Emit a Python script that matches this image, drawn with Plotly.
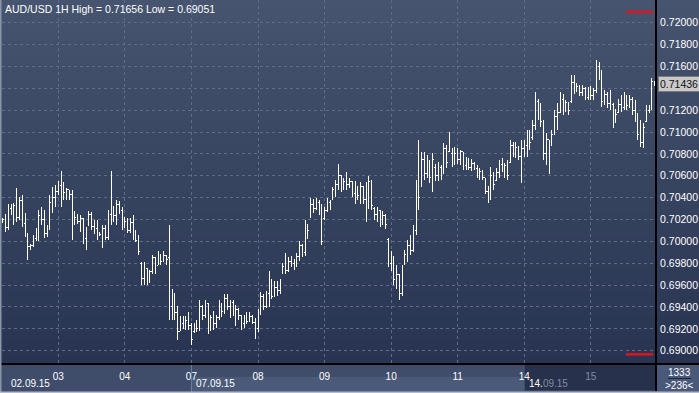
import plotly.graph_objects as go

# ---------------- data ----------------
pair = "AUD/USD"
timeframe = "1H"
total_bars = 1333

day_labels = ["03", "04", "07", "08", "09", "10", "11", "14", "15"]
day_start_idx = [20, 44, 68, 92, 116, 140, 164, 188, 212]
date_labels = ["02.09.15", "07.09.15", "14.09.15"]
date_label_idx = [0, 68, 188]

y_tick_vals = [0.690, 0.692, 0.694, 0.696, 0.698, 0.700, 0.702, 0.704,
               0.706, 0.708, 0.710, 0.712, 0.714, 0.716, 0.718, 0.720]

opens = [
    .7019, .7020, .7013, .7030, .7028, .7033, .7022, .7037, .7016, .7006,
    .6995, .6996, .7003, .7001, .7024, .7020, .7007, .7012, .7036, .7040,
    .7046, .7051, .7050, .7045, .7047, .7043, .7020, .7022, .7018, .7021,
    .7003, .7016, .7025, .7014, .7012, .7008, .7006, .7012, .7004, .7025,
    .7030, .7024, .7034, .7028, .7013, .7018, .7010, .7017, .7004, .7001,
    .6980, .6966, .6975, .6970, .6972, .6985, .6978, .6988, .6982, .6987,
    .6985, .6940, .6950, .6935, .6918, .6925, .6922, .6928, .6923, .6918,
    .6922, .6920, .6940, .6932, .6943, .6920, .6930, .6925, .6930, .6942,
    .6936, .6948, .6940, .6944, .6935, .6938, .6932, .6925, .6929, .6927,
    .6931, .6926, .6920, .6935, .6950, .6940, .6952, .6962, .6950, .6958,
    .6955, .6972, .6977, .6973, .6982, .6980, .6978, .6986, .6996, .6990,
    .7015, .7022, .7034, .7030, .7036, .7028, .7021, .7028, .7036, .7040,
    .7047, .7052, .7060, .7050, .7055, .7052, .7055, .7044, .7050, .7042,
    .7050, .7038, .7048, .7055, .7030, .7025, .7028, .7016, .7024, .7002,
    .6980, .6976, .6965, .6970, .6952, .6980, .6988, .6996, .6992, .7010,
    .7050, .7060, .7075, .7062, .7070, .7058, .7068, .7060, .7068, .7063,
    .7085, .7082, .7080, .7072, .7080, .7075, .7082, .7069, .7073, .7068,
    .7071, .7067, .7061, .7064, .7058, .7046, .7040, .7060, .7056, .7063,
    .7070, .7066, .7069, .7072, .7088, .7081, .7086, .7078, .7085, .7088,
    .7094, .7095, .7106, .7128, .7116, .7110, .7080, .7093, .7092, .7098,
    .7114, .7118, .7130, .7124, .7127, .7128, .7145, .7140, .7142, .7136,
    .7140, .7132, .7137, .7133, .7138, .7160, .7151, .7128, .7134, .7126,
    .7125, .7110, .7118, .7125, .7122, .7132, .7124, .7130, .7120, .7113,
    .7098, .7090, .7110, .7120, .7122, .7146,
]
highs = [
    .7021, .7025, .7034, .7034, .7035, .7049, .7041, .7042, .7026, .7008,
    .6998, .7006, .7012, .7029, .7031, .7029, .7015, .7042, .7050, .7052,
    .7055, .7064, .7054, .7049, .7047, .7047, .7028, .7025, .7024, .7021,
    .7013, .7028, .7027, .7020, .7020, .7009, .7015, .7015, .7029, .7064,
    .7032, .7038, .7037, .7031, .7022, .7021, .7021, .7024, .7010, .7006,
    .6981, .6981, .6976, .6974, .6988, .6986, .6991, .6988, .6991, .6988,
    .7015, .6956, .6953, .6941, .6932, .6932, .6932, .6935, .6925, .6925,
    .6928, .6946, .6942, .6946, .6944, .6933, .6936, .6933, .6946, .6944,
    .6952, .6952, .6946, .6946, .6942, .6939, .6933, .6933, .6935, .6935,
    .6933, .6930, .6938, .6954, .6952, .6955, .6973, .6966, .6964, .6964,
    .6966, .6980, .6989, .6986, .6987, .6984, .6989, .7000, .6998, .7020,
    .7016, .7040, .7039, .7040, .7038, .7034, .7031, .7040, .7038, .7050,
    .7056, .7071, .7061, .7058, .7063, .7058, .7055, .7055, .7050, .7054,
    .7051, .7054, .7060, .7056, .7031, .7031, .7029, .7028, .7025, .7003,
    .6991, .6987, .6978, .6970, .6978, .6992, .7001, .7006, .7015, .7056,
    .7093, .7082, .7082, .7079, .7074, .7081, .7071, .7073, .7070, .7090,
    .7088, .7100, .7085, .7086, .7085, .7084, .7082, .7077, .7076, .7075,
    .7073, .7070, .7067, .7065, .7058, .7051, .7068, .7063, .7067, .7074,
    .7076, .7072, .7074, .7093, .7091, .7091, .7087, .7093, .7093, .7102,
    .7102, .7111, .7137, .7130, .7127, .7111, .7099, .7093, .7102, .7120,
    .7127, .7137, .7135, .7129, .7127, .7152, .7152, .7145, .7143, .7143,
    .7141, .7141, .7142, .7140, .71656, .7164, .7157, .7138, .7137, .7138,
    .7127, .7121, .7130, .7134, .7137, .7134, .7134, .7132, .7129, .7117,
    .7111, .7108, .7125, .7125, .7149, .7147,
]
lows = [
    .7017, .7009, .7010, .7024, .7015, .7018, .7020, .7013, .7004, .6983,
    .6992, .6995, .7000, .7000, .7015, .7003, .7004, .7010, .7026, .7031,
    .7042, .7031, .7038, .7038, .7038, .7001, .7015, .7016, .7009, .6998,
    .6992, .7014, .7010, .7007, .7001, .7005, .6994, .7001, .7001, .7015,
    .7018, .7015, .7025, .7010, .7012, .7008, .7008, .7001, .6999, .6988,
    .6960, .6960, .6960, .6962, .6970, .6970, .6978, .6978, .6981, .6978,
    .6928, .6928, .6928, .6910, .6918, .6920, .6919, .6919, .69051, .6916,
    .6917, .6918, .6928, .6930, .6915, .6918, .6919, .6921, .6928, .6931,
    .6934, .6937, .6930, .6932, .6923, .6928, .6919, .6921, .6924, .6926,
    .6924, .6911, .6917, .6933, .6937, .6939, .6940, .6947, .6950, .6950,
    .6952, .6970, .6970, .6972, .6977, .6974, .6977, .6982, .6986, .6987,
    .7002, .7021, .7026, .7029, .7024, .6997, .7020, .7027, .7029, .7038,
    .7041, .7047, .7045, .7047, .7047, .7049, .7041, .7034, .7038, .7034,
    .7034, .7018, .7030, .7029, .7020, .7018, .7013, .7015, .7011, .6977,
    .6973, .6960, .6956, .6946, .6950, .6978, .6981, .6988, .6990, .7006,
    .7029, .7050, .7056, .7058, .7053, .7045, .7055, .7055, .7056, .7062,
    .7067, .7082, .7068, .7070, .7071, .7070, .7065, .7065, .7065, .7064,
    .7065, .7058, .7056, .7056, .7043, .7035, .7038, .7047, .7056, .7058,
    .7063, .7058, .7056, .7072, .7077, .7076, .7074, .7053, .7077, .7077,
    .7084, .7093, .7102, .7111, .7105, .7074, .7070, .7062, .7087, .7097,
    .7102, .7117, .7116, .7118, .7116, .7127, .7135, .7137, .7133, .7133,
    .7129, .7129, .7129, .7129, .7136, .7148, .7123, .7125, .7122, .7120,
    .7104, .7108, .7118, .7118, .7120, .7120, .7122, .7116, .7109, .7093,
    .7086, .7085, .7109, .7117, .7120, .7142,
]
closes = [
    .7020, .7013, .7030, .7028, .7033, .7022, .7037, .7016, .7006, .6995,
    .6996, .7003, .7001, .7024, .7020, .7007, .7012, .7036, .7040, .7046,
    .7051, .7058, .7045, .7047, .7043, .7010, .7022, .7018, .7021, .7003,
    .7010, .7025, .7014, .7012, .7008, .7006, .7012, .7004, .7025, .7030,
    .7024, .7034, .7028, .7013, .7018, .7010, .7017, .7004, .7001, .6991,
    .6966, .6975, .6970, .6972, .6985, .6978, .6988, .6982, .6987, .6983,
    .6940, .6950, .6935, .6918, .6925, .6922, .6928, .6923, .6910, .6922,
    .6920, .6940, .6932, .6943, .6920, .6930, .6925, .6930, .6942, .6936,
    .6948, .6940, .6944, .6935, .6938, .6932, .6925, .6929, .6927, .6931,
    .6926, .6918, .6935, .6950, .6940, .6952, .6968, .6950, .6958, .6955,
    .6962, .6977, .6973, .6982, .6980, .6978, .6986, .6996, .6990, .7015,
    .7010, .7034, .7030, .7036, .7028, .7000, .7028, .7036, .7032, .7047,
    .7052, .7060, .7050, .7055, .7052, .7055, .7044, .7050, .7042, .7050,
    .7038, .7048, .7055, .7033, .7025, .7028, .7016, .7024, .7015, .6980,
    .6976, .6965, .6970, .6952, .6975, .6988, .6996, .6992, .7010, .7050,
    .7040, .7075, .7062, .7070, .7058, .7075, .7060, .7068, .7063, .7085,
    .7072, .7090, .7072, .7080, .7075, .7082, .7069, .7073, .7068, .7071,
    .7067, .7061, .7064, .7058, .7046, .7040, .7060, .7052, .7063, .7070,
    .7066, .7069, .7060, .7088, .7081, .7086, .7078, .7085, .7088, .7094,
    .7090, .7106, .7128, .7116, .7110, .7080, .7093, .7085, .7098, .7114,
    .7118, .7130, .7124, .7127, .7120, .7145, .7140, .7142, .7136, .7140,
    .7132, .7137, .7133, .7138, .7160, .7151, .7128, .7134, .7126, .7133,
    .7110, .7116, .7125, .7122, .7132, .7124, .7130, .7120, .7113, .7098,
    .7090, .7104, .7120, .7122, .7146, .71436,
]

# ---------------- figure ----------------
n = len(closes)
xs = list(range(n))
X_MIN, X_MAX = -0.3, n - 0.5
Y_MIN, Y_MAX = 0.688785, 0.722076

W, H = 699, 393
M_L, M_R, M_T, M_B = 2, 43, 0, 29
PW, PH = W - M_L - M_R, H - M_T - M_B

def px_x(p):  # pixel -> paper x
    return (p - M_L) / PW

def px_y(p):  # pixel -> paper y
    return (M_T + PH - p) / PH

def idx_x(i):  # data index -> paper x
    return (i - X_MIN) / (X_MAX - X_MIN)

FONT = "Liberation Sans, Arial, sans-serif"
bar_color = "#ffffff"
grid_color = "#5d6c8a"
dim_color = "#7f8ca6"

fig = go.Figure(go.Ohlc(
    x=xs, open=opens, high=highs, low=lows, close=closes,
    increasing=dict(line=dict(color=bar_color, width=1)),
    decreasing=dict(line=dict(color=bar_color, width=1)),
    tickwidth=0.4, hoverinfo="skip", showlegend=False,
))

shapes = []
# vertical gradient background (plot + price axis)
top_c, bot_c = (70, 84, 111), (40, 52, 81)
N = 46
for k in range(N):
    t = k / (N - 1)
    c = tuple(round(top_c[j] + (bot_c[j] - top_c[j]) * t) for j in range(3))
    shapes.append(dict(type="rect", xref="paper", yref="paper", layer="below",
                       x0=px_x(-2), x1=px_x(W + 2),
                       y0=1 - (k + 1) / N - 0.002, y1=1 - k / N,
                       fillcolor="rgb(%d,%d,%d)" % c, line=dict(width=0)))

yb = px_y(H + 2)
# bottom panel
shapes.append(dict(type="rect", xref="paper", yref="paper", layer="below",
                   x0=px_x(-2), x1=1, y0=yb, y1=0,
                   fillcolor="#3f4d6b", line=dict(width=0)))
shapes.append(dict(type="rect", xref="paper", yref="paper", layer="below",
                   x0=idx_x(date_label_idx[1]), x1=idx_x(date_label_idx[2]),
                   y0=yb, y1=px_y(377), fillcolor="#4b5a79", line=dict(width=0)))
shapes.append(dict(type="rect", xref="paper", yref="paper", layer="below",
                   x0=idx_x(date_label_idx[2]), x1=1, y0=px_y(391), y1=0,
                   fillcolor="#27314c", line=dict(color="#4a5672", width=1)))
shapes.append(dict(type="line", xref="paper", yref="paper", layer="above",
                   x0=idx_x(date_label_idx[1]), x1=idx_x(date_label_idx[1]),
                   y0=0, y1=yb, line=dict(color="#6f7e9c", width=1)))
# price-axis corner box
shapes.append(dict(type="rect", xref="paper", yref="paper", layer="below",
                   x0=1, x1=px_x(W + 2), y0=yb, y1=0,
                   fillcolor="#4a5879", line=dict(width=0)))
shapes.append(dict(type="line", xref="paper", yref="paper", layer="above",
                   x0=px_x(668), x1=px_x(691), y0=px_y(378.5), y1=px_y(378.5),
                   line=dict(color="#1c2438", width=1)))
# separators
shapes.append(dict(type="line", xref="paper", yref="paper", layer="above",
                   x0=px_x(-2), x1=px_x(W + 2), y0=0, y1=0,
                   line=dict(color="#000000", width=2)))
shapes.append(dict(type="line", xref="paper", yref="paper", layer="above",
                   x0=1, x1=1, y0=1.01, y1=px_y(391),
                   line=dict(color="#000000", width=2)))
# window frame
shapes.append(dict(type="line", xref="paper", yref="paper", layer="above",
                   x0=px_x(0.5), x1=px_x(0.5), y0=1.01, y1=yb,
                   line=dict(color="#8a95aa", width=2)))
shapes.append(dict(type="line", xref="paper", yref="paper", layer="above",
                   x0=px_x(-2), x1=px_x(W + 2), y0=px_y(392.5), y1=px_y(392.5),
                   line=dict(color="#b4bccb", width=2)))
# red range markers
for yp in (px_y(11.7), px_y(354.3)):
    shapes.append(dict(type="line", xref="paper", yref="paper", layer="above",
                       x0=px_x(626), x1=px_x(653), y0=yp, y1=yp,
                       line=dict(color="#e0141c", width=2.5)))

annotations = []
annotations.append(dict(
    text="%s %s High = %.5f Low = %.5f" % (pair, timeframe, max(highs), min(lows)),
    xref="paper", yref="paper", x=0, y=1, xanchor="left", yanchor="top",
    xshift=1, yshift=-1, showarrow=False,
    font=dict(family=FONT, size=10.5, color="#ffffff")))

for lab, i in zip(date_labels, date_label_idx):
    txt = lab
    if i == date_label_idx[2]:
        txt = lab[:3] + '<span style="color:%s">%s</span>' % (dim_color, lab[3:])
    annotations.append(dict(
        text=txt, xref="paper", yref="paper", x=max(idx_x(i), 0), y=0,
        xanchor="left", yanchor="middle", xshift=6 if i == 0 else 3, yshift=-19,
        showarrow=False, font=dict(family=FONT, size=10, color="#ffffff")))

annotations.append(dict(
    text=str(total_bars), xref="paper", yref="paper", x=px_x(679), y=0,
    xanchor="center", yanchor="middle", yshift=-8, showarrow=False,
    font=dict(family=FONT, size=10, color="#ffffff")))
annotations.append(dict(
    text="&gt;%d&lt;" % n, xref="paper", yref="paper", x=px_x(679), y=0,
    xanchor="center", yanchor="middle", yshift=-21, showarrow=False,
    font=dict(family=FONT, size=10, color="#ffffff")))

annotations.append(dict(
    text="%.5f" % closes[-1], xref="paper", yref="y", x=1, y=closes[-1],
    xanchor="left", yanchor="middle", xshift=2, showarrow=False,
    bgcolor="#c9c9c9", bordercolor="#7a7a7a", borderwidth=1, borderpad=1,
    font=dict(family=FONT, size=10.5, color="#111111")))

tick_text = []
for lab, i in zip(day_labels, day_start_idx):
    if i > date_label_idx[2]:
        tick_text.append('<span style="color:%s">%s</span>' % (dim_color, lab))
    else:
        tick_text.append(lab)

fig.update_layout(
    width=W, height=H,
    margin=dict(l=M_L, r=M_R, t=M_T, b=M_B, pad=0),
    paper_bgcolor="#3f4d6b", plot_bgcolor="rgba(0,0,0,0)",
    showlegend=False, shapes=shapes, annotations=annotations,
    font=dict(family=FONT, color="#ffffff"),
    xaxis=dict(range=[X_MIN, X_MAX], tickmode="array", tickvals=day_start_idx,
               ticktext=tick_text, showgrid=True, gridcolor=grid_color,
               griddash="3px,3px", gridwidth=1, zeroline=False, showline=False,
               ticks="outside", ticklen=3, tickcolor="rgba(0,0,0,0)",
               tickfont=dict(family=FONT, size=10, color="#ffffff"),
               rangeslider=dict(visible=False), fixedrange=True),
    yaxis=dict(range=[Y_MIN, Y_MAX], side="right", tickmode="array",
               tickvals=y_tick_vals, ticktext=["%.5f" % v for v in y_tick_vals],
               showgrid=True, gridcolor=grid_color, griddash="3px,3px", gridwidth=1,
               zeroline=False, showline=False, ticks="outside", ticklen=1,
               tickcolor="rgba(0,0,0,0)",
               tickfont=dict(family=FONT, size=10.5, color="#ffffff"), fixedrange=True),
)

fig.write_html("out.html", config={"displayModeBar": False},
               post_script="document.body.style.margin='0';"
                           "document.body.style.overflow='hidden';"
                           "document.querySelectorAll('.ohlc path').forEach("
                           "function(p){p.style.shapeRendering='crispEdges';});")
